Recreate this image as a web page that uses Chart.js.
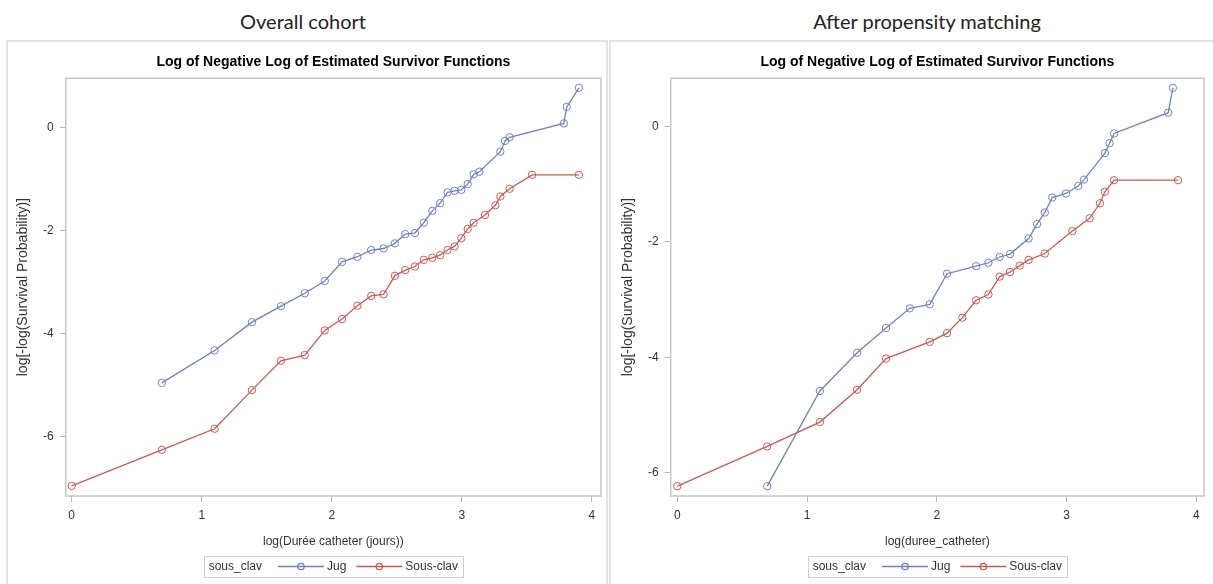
<!DOCTYPE html>
<html>
<head>
<meta charset="utf-8">
<script src="https://cdn.jsdelivr.net/npm/chart.js@4.4.0/dist/chart.umd.min.js"></script>
<style>
  body { margin: 0; width: 1213px; height: 584px; background: #fff; overflow: hidden; position: relative; }
  .heading { position: absolute; top: 9px; line-height: 24px; font-family: Lato, "Open Sans", sans-serif; font-size: 20px; color: #222; transform: translateX(-50%); white-space: nowrap; }
  .panel { position: absolute; top: 40px; height: 560px; border: 2px solid #e2e2e2; box-sizing: border-box; }
  canvas { position: absolute; top: 40px; }
</style>
</head>
<body>
<div class="heading" style="left:303px">Overall cohort</div>
<div class="heading" style="left:927px">After propensity matching</div>
<div class="panel" style="left:6px;width:602px"></div>
<div class="panel" style="left:609px;width:620px"></div>
<canvas id="overall" width="607" height="544" style="left:0"></canvas>
<canvas id="matched" width="607" height="544" style="left:606px"></canvas>
<script>
// values (x = log of days)
const chartTitle = 'Log of Negative Log of Estimated Survivor Functions';
const yTitle = 'log[-log(Survival Probability)]';
const legendTitle = 'sous_clav';
const groupNames = ['Jug', 'Sous-clav'];
const xTicks = [0, 1, 2, 3, 4];
const yTicks = [-6, -4, -2, 0];

// Overall cohort
const overallJugX = [0.693, 1.099, 1.386, 1.609, 1.792, 1.946, 2.079, 2.197, 2.303, 2.398, 2.485, 2.565, 2.639, 2.708,
  2.773, 2.833, 2.890, 2.944, 2.996, 3.045, 3.091, 3.135, 3.296, 3.332, 3.367, 3.784, 3.807, 3.900];
const overallJugY = [-4.95, -4.32, -3.77, -3.46, -3.21, -2.97, -2.60, -2.50, -2.37, -2.34, -2.24, -2.06, -2.04, -1.84,
  -1.61, -1.46, -1.25, -1.22, -1.20, -1.09, -0.90, -0.85, -0.46, -0.25, -0.18, 0.09, 0.41, 0.78];
const overallSousX = [0, 0.693, 1.099, 1.386, 1.609, 1.792, 1.946, 2.079, 2.197, 2.303, 2.398, 2.485, 2.565, 2.639,
  2.708, 2.773, 2.833, 2.890, 2.944, 2.996, 3.045, 3.091, 3.178, 3.258, 3.296, 3.367, 3.540, 3.900];
const overallSousY = [-6.95, -6.25, -5.84, -5.09, -4.52, -4.41, -3.93, -3.71, -3.45, -3.26, -3.23, -2.87, -2.76, -2.69,
  -2.56, -2.52, -2.47, -2.37, -2.30, -2.14, -1.96, -1.84, -1.69, -1.50, -1.33, -1.18, -0.91, -0.91];

// After propensity matching
const matchedJugX = [0.693, 1.099, 1.386, 1.609, 1.792, 1.946, 2.079, 2.303, 2.398, 2.485, 2.565, 2.708, 2.773, 2.833,
  2.890, 2.996, 3.091, 3.135, 3.296, 3.332, 3.367, 3.784, 3.820];
const matchedJugY = [-6.23, -4.58, -3.92, -3.49, -3.15, -3.08, -2.55, -2.42, -2.36, -2.26, -2.21, -1.94, -1.69, -1.49,
  -1.23, -1.16, -1.03, -0.92, -0.46, -0.29, -0.12, 0.24, 0.67];
const matchedSousX = [0, 0.693, 1.099, 1.386, 1.609, 1.946, 2.079, 2.197, 2.303, 2.398, 2.485, 2.565, 2.639, 2.708,
  2.833, 3.045, 3.178, 3.258, 3.296, 3.367, 3.860];
const matchedSousY = [-6.23, -5.54, -5.12, -4.56, -4.02, -3.73, -3.58, -3.31, -3.01, -2.91, -2.60, -2.52, -2.41, -2.31,
  -2.20, -1.81, -1.59, -1.33, -1.13, -0.93, -0.93];

const blue = '#7080BE';
const red = '#C45C54';

Chart.defaults.font.family = '"Liberation Sans", Arial, sans-serif';
Chart.defaults.color = '#333';

const toPoints = (xs, ys) => xs.map((x, i) => ({x: x, y: ys[i]}));

// grey box round the plot area
const framePlugin = {
  id: 'frame',
  beforeDatasetsDraw(chart) {
    const {ctx, chartArea: a} = chart;
    ctx.save();
    ctx.strokeStyle = '#c6c6c6';
    ctx.lineWidth = 1.5;
    ctx.strokeRect(a.left, a.top, a.right - a.left, a.bottom - a.top);
    ctx.restore();
  }
};

// SAS style legend: "sous_clav  -o- Jug  -o- Sous-clav" in a box
const legendPlugin = {
  id: 'sasLegend',
  afterDraw(chart, args, opts) {
    const {ctx, chartArea: a} = chart;
    const sets = chart.data.datasets;
    ctx.save();
    ctx.font = '12px "Liberation Sans", Arial, sans-serif';
    const pad = 5, afterTitle = 16, sample = 46, toLabel = 3, between = 10, h = 21;
    let w = pad + ctx.measureText(opts.title).width + afterTitle;
    sets.forEach((d, i) => {
      w += sample + toLabel + ctx.measureText(d.label).width;
      if (i < sets.length - 1) w += between;
    });
    w += pad;
    let x = (a.left + a.right) / 2 - w / 2;
    const top = opts.top, mid = top + h / 2;
    ctx.strokeStyle = '#cfcfcf';
    ctx.lineWidth = 1;
    ctx.strokeRect(Math.round(x) + 0.5, top + 0.5, Math.round(w), h);
    ctx.fillStyle = '#333';
    ctx.textBaseline = 'middle';
    x += pad;
    ctx.fillText(opts.title, x, mid);
    x += ctx.measureText(opts.title).width + afterTitle;
    sets.forEach(d => {
      ctx.strokeStyle = d.borderColor;
      ctx.lineWidth = 1.3;
      ctx.beginPath();
      ctx.moveTo(x, mid);
      ctx.lineTo(x + sample, mid);
      ctx.stroke();
      ctx.beginPath();
      ctx.arc(x + sample / 2, mid, 3.2, 0, Math.PI * 2);
      ctx.stroke();
      x += sample + toLabel;
      ctx.fillStyle = '#333';
      ctx.fillText(d.label, x, mid);
      x += ctx.measureText(d.label).width + between;
    });
    ctx.restore();
  }
};

function series(label, color, xs, ys) {
  return {
    label: label,
    data: toPoints(xs, ys),
    showLine: true,
    borderColor: color,
    borderWidth: 1.3,
    pointRadius: 3.7,
    pointBorderWidth: 1,
    pointBorderColor: color,
    pointBackgroundColor: 'rgba(255,255,255,0)',
    pointStyle: 'circle'
  };
}

function makePanel(id, jug, sous, xTitle, xRange, yRange, yAxisWidth, yTitlePad, padRight) {
  return new Chart(document.getElementById(id), {
    type: 'scatter',
    data: {
      datasets: [
        series(groupNames[0], blue, jug[0], jug[1]),
        series(groupNames[1], red, sous[0], sous[1])
      ]
    },
    options: {
      responsive: false,
      animation: false,
      layout: { padding: { left: 0, right: padRight, top: 0, bottom: 32 } },
      scales: {
        x: {
          type: 'linear',
          min: xRange[0],
          max: xRange[1],
          afterBuildTicks: s => { s.ticks = xTicks.map(v => ({value: v})); },
          afterFit: s => { s.height = 56; },
          border: { display: false },
          grid: { drawOnChartArea: false, drawTicks: true, tickLength: 6, color: '#b4b4b4' },
          ticks: { font: { size: 12 }, padding: 6, maxRotation: 0 },
          title: { display: true, text: xTitle, font: { size: 12 }, padding: { top: 0, bottom: 3 } }
        },
        y: {
          type: 'linear',
          min: yRange[0],
          max: yRange[1],
          afterBuildTicks: s => { s.ticks = yTicks.map(v => ({value: v})); },
          afterFit: s => { s.width = yAxisWidth; },
          border: { display: false },
          grid: { drawOnChartArea: false, drawTicks: true, tickLength: 6, color: '#b4b4b4' },
          ticks: { font: { size: 12 }, padding: 6 },
          title: { display: true, text: yTitle, font: { size: 14 }, padding: { top: yTitlePad, bottom: 0 } }
        }
      },
      plugins: {
        legend: { display: false },
        tooltip: { enabled: false },
        title: {
          display: true,
          text: chartTitle,
          fullSize: false,
          color: '#000',
          font: { size: 14, weight: 'bold' },
          padding: { top: 13.6, bottom: 7.9 }
        },
        sasLegend: { title: legendTitle, top: 516 }
      }
    },
    plugins: [framePlugin, legendPlugin]
  });
}

makePanel('overall', [overallJugX, overallJugY], [overallSousX, overallSousY],
  'log(Durée catheter (jours))', [-0.046, 4.07], [-7.146, 0.965], 65.7, 14.6, 6);
makePanel('matched', [matchedJugX, matchedJugY], [matchedSousX, matchedSousY],
  'log(duree_catheter)', [-0.051, 4.06], [-6.40, 0.835], 64.7, 13.6, 9);
</script>
</body>
</html>
